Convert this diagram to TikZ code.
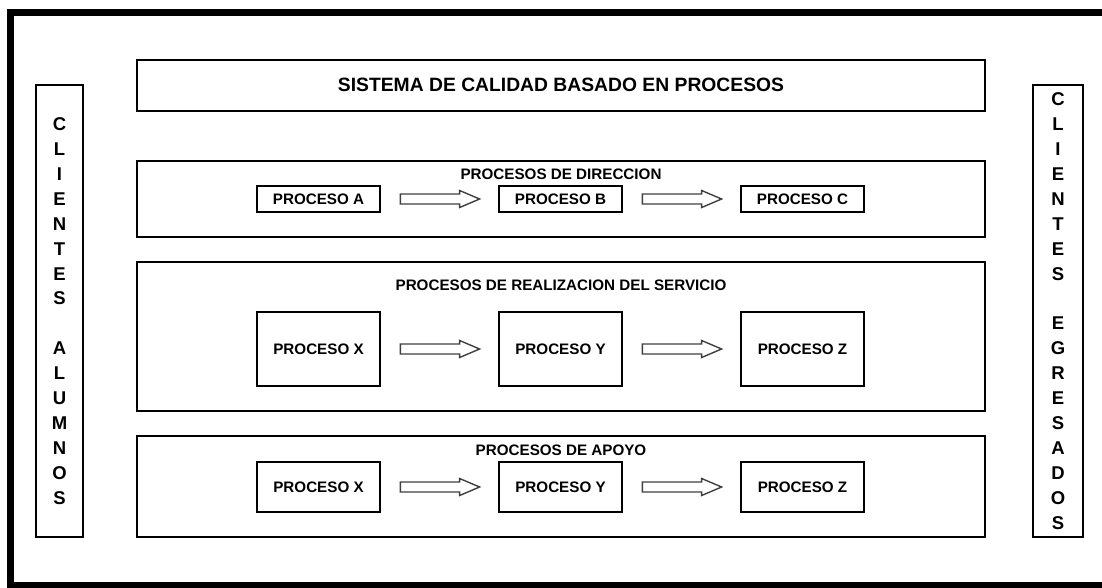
\documentclass[tikz,border=0pt]{standalone}
\usepackage{fontspec}
\setmainfont{Liberation Sans}
\usetikzlibrary{calc}
\tikzset{
  bigbox/.style={draw=black, line width=2.7pt, minimum width=848, inner sep=0pt},
  procbox/.style={draw=black, line width=2.8pt, minimum width=123, inner sep=0pt,
    font=\fontsize{15.2}{18}\selectfont\bfseries},
  sectitle/.style={inner sep=0pt, font=\fontsize{15.2}{18}\selectfont\bfseries},
  maintitle/.style={inner sep=0pt, font=\fontsize{19.3}{22}\selectfont\bfseries},
  clientbox/.style={draw=black, line width=2.7pt, minimum height=452, inner sep=0pt},
  vertext/.style={inner sep=0pt, align=center, font=\fontsize{18.5}{24.9}\selectfont\bfseries},
  fatarr/.style={draw=black!75, line width=1.4pt, fill=white, line join=miter},
  frame/.style={draw=black, line width=7pt}
}
\newcommand\fatarrow[2]{%
  \draw[fatarr] let \p1=($(#1.east)+(19,0)$), \p2=($(#2.west)+(-18,0)$) in
    (\x1,\y1+5pt) -- (\x2-20pt,\y1+5pt) -- (\x2-20pt,\y1+8.5pt) -- (\x2,\y1)
    -- (\x2-20pt,\y1-8.5pt) -- (\x2-20pt,\y1-5pt) -- (\x1,\y1-5pt) -- cycle;}
\begin{document}
\begin{tikzpicture}[x=1pt,y=-1pt]
  \useasboundingbox (0,0) rectangle (1102,587);
  \clip (0,0) rectangle (1102,587);
  \fill[white] (0,0) rectangle (1102,587);
  % outer frame (right side lies beyond the picture)
  \draw[frame] (10,12.5) rectangle (1115,585.5);

  % clients columns
  \node[clientbox, minimum width=47] (cl) at (59.5,311) {};
  \node[vertext] (clt) at (cl.center) {C\\L\\I\\E\\N\\T\\E\\S\\[24.9pt]A\\L\\U\\M\\N\\O\\S};
  \node[clientbox, minimum width=50] (cr) at (1058,311) {};
  \node[vertext] (crt) at (cr.center) {C\\L\\I\\E\\N\\T\\E\\S\\[24.9pt]E\\G\\R\\E\\S\\A\\D\\O\\S};

  % title
  \node[bigbox, minimum height=51] (tb) at (561,85.5) {};
  \node[maintitle] (tt) at (561,85) {SISTEMA DE CALIDAD BASADO EN PROCESOS};

  % direccion
  \node[bigbox, minimum height=76] (dir) at (561,199) {};
  \node[sectitle] (dirt) at (561,174) {PROCESOS DE DIRECCION};
  \node[procbox, minimum height=26] (pa) at (318.5,199) {PROCESO A};
  \node[procbox, minimum height=26] (pb) at (560.5,199) {PROCESO B};
  \node[procbox, minimum height=26] (pc) at (802.5,199) {PROCESO C};
  \fatarrow{pa}{pb}
  \fatarrow{pb}{pc}

  % realizacion
  \node[bigbox, minimum height=149] (rea) at (561,336.5) {};
  \node[sectitle] (reat) at (561,285.5) {PROCESOS DE REALIZACION DEL SERVICIO};
  \node[procbox, minimum height=74] (rx) at (318.5,349) {PROCESO X};
  \node[procbox, minimum height=74] (ry) at (560.5,349) {PROCESO Y};
  \node[procbox, minimum height=74] (rz) at (802.5,349) {PROCESO Z};
  \fatarrow{rx}{ry}
  \fatarrow{ry}{rz}

  % apoyo
  \node[bigbox, minimum height=101] (apo) at (561,486.5) {};
  \node[sectitle] (apot) at (561,450.5) {PROCESOS DE APOYO};
  \node[procbox, minimum height=50] (ax) at (318.5,487) {PROCESO X};
  \node[procbox, minimum height=50] (ay) at (560.5,487) {PROCESO Y};
  \node[procbox, minimum height=50] (az) at (802.5,487) {PROCESO Z};
  \fatarrow{ax}{ay}
  \fatarrow{ay}{az}
\end{tikzpicture}
\end{document}
